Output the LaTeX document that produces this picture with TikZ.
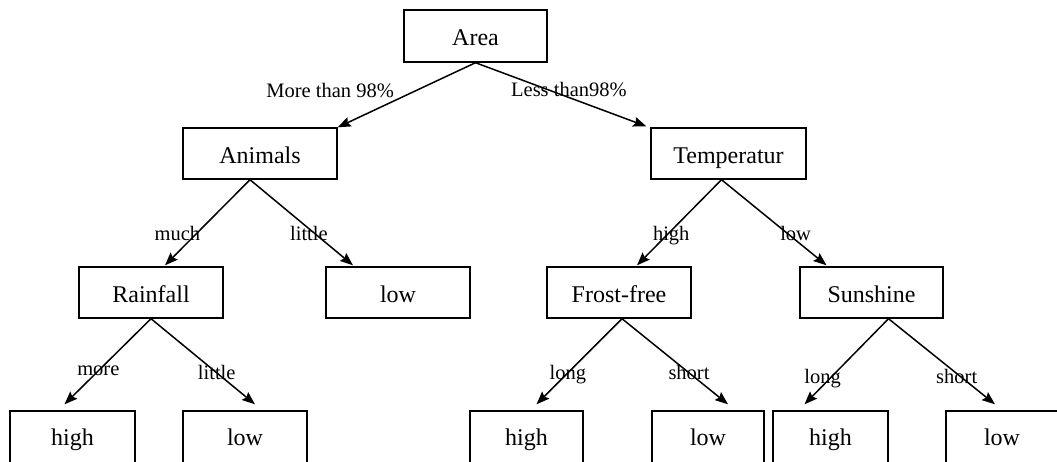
\documentclass[tikz,border=0pt]{standalone}
\usepackage{fontspec}
\setmainfont{Liberation Serif}
\usetikzlibrary{arrows.meta}

\begin{document}
\begin{tikzpicture}[x=1pt,y=-1pt,
box/.style={draw,line width=1.4pt,inner sep=0pt,minimum height=51pt,
  text height=20pt,text depth=1pt,font=\fontsize{24}{28}\selectfont},
leaf/.style={box,minimum height=56pt,text height=14pt,text depth=1pt},
lbl/.style={inner sep=0pt,text height=14pt,text depth=0pt,font=\fontsize{20.5}{24}\selectfont}]
\useasboundingbox (0,0) rectangle (1057,461);
\node[box,minimum width=143pt,minimum height=52pt] (A) at (475.5,36) {Area};
\node[box,minimum width=154pt] (B) at (260,153.5) {Animals};
\node[box,minimum width=155pt] (C) at (728.5,153.5) {Temperatur};
\node[box,minimum width=144pt] (D) at (151,292.5) {Rainfall};
\node[box,minimum width=144pt] (E) at (398,292.5) {low};
\node[box,minimum width=144pt] (F) at (619,292.5) {Frost-free};
\node[box,minimum width=143pt] (G) at (871.5,292.5) {Sunshine};
\node[leaf,minimum width=125pt] (H) at (72.5,439) {high};
\node[leaf,minimum width=124pt] (I) at (245,439) {low};
\node[leaf,minimum width=113pt] (J) at (526.5,439) {high};
\node[leaf,minimum width=112pt] (K) at (708,439) {low};
\node[leaf,minimum width=115pt] (L) at (830.5,439) {high};
\node[leaf,minimum width=112pt] (M) at (1002,439) {low};
\path[-{Stealth[length=13pt,width=10pt,inset=2pt]},line width=1.5pt]
(A.south) edge node[lbl,pos=.424,xshift=-87pt]{More than 98\%} (B.north east)
(A.south) edge node[lbl,pos=.424,xshift=21pt]{Less than98\%} ([xshift=-4pt,yshift=1pt]C.north west)
([xshift=-10pt]B.south) edge node[lbl,pos=.63,xshift=-19pt]{much} ([xshift=14pt,yshift=1pt]D.north)
([xshift=-10pt]B.south) edge node[lbl,pos=.63,xshift=-6pt]{little} ([xshift=-45pt,yshift=1pt]E.north)
([xshift=-7pt]C.south) edge node[lbl,pos=.63,xshift=3pt]{high} ([xshift=18pt,yshift=1pt]F.north)
([xshift=-7pt]C.south) edge node[lbl,pos=.63,xshift=8pt]{low} ([xshift=-45pt,yshift=1pt]G.north)
(D.south) edge node[lbl,pos=.586,xshift=-2pt]{more} ([xshift=-8pt,yshift=6pt]H.north)
(D.south) edge node[lbl,pos=.632]{little} ([xshift=10pt,yshift=6pt]I.north)
([xshift=3pt]F.south) edge node[lbl,pos=.632]{long} ([xshift=10pt,yshift=6pt]J.north)
([xshift=3pt]F.south) edge node[lbl,pos=.632]{short} ([xshift=20pt,yshift=6pt]K.north)
([xshift=17pt]G.south) edge node[lbl,pos=.678,xshift=-9pt]{long} ([xshift=-26pt,yshift=6pt]L.north)
([xshift=17pt]G.south) edge node[lbl,pos=.678,xshift=-4pt]{short} ([xshift=-7pt,yshift=6pt]M.north);
\end{tikzpicture}
\end{document}
